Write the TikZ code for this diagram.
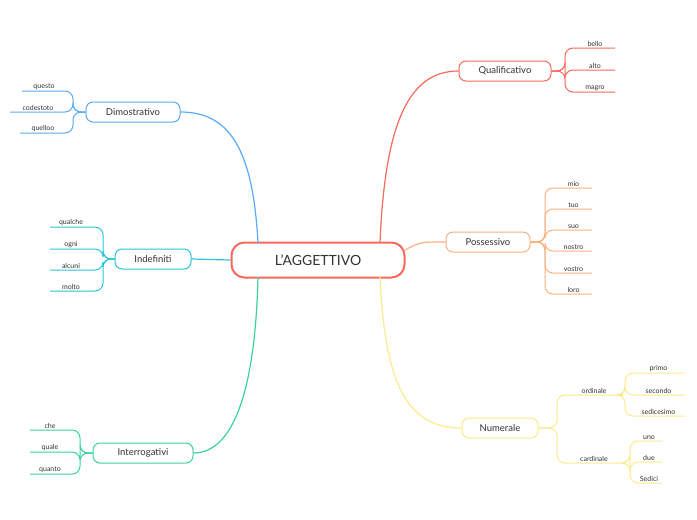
\documentclass[tikz,border=0pt]{standalone}
\usepackage{fontspec}
\setmainfont{Lato}
\definecolor{cRed}{HTML}{F8695D}
\definecolor{cOra}{HTML}{FDB27E}
\definecolor{cYel}{HTML}{FCEB8C}
\definecolor{cBlu}{HTML}{5AABF5}
\definecolor{cTea}{HTML}{2AC5D8}
\definecolor{cGre}{HTML}{3AD39E}
\definecolor{cTxt}{HTML}{333333}
\tikzset{
  topic/.style={draw=#1,line width=1pt,rounded corners=7pt,minimum height=20pt,fill=white,text=cTxt,font=\fontsize{9.5}{11}\selectfont},
  root/.style={draw=cRed,line width=2pt,rounded corners=13pt,minimum width=173pt,minimum height=35pt,fill=white,text=cTxt,font=\fontsize{14}{16}\selectfont},
  leaftxt/.style={text=cTxt,font=\fontsize{7}{8}\selectfont,inner sep=1pt},
  branch/.style={draw=#1,line width=1pt,rounded corners=8pt},
}
% \leaf{start}{bracket x}{line y}{start x}{end x}{text}{colour}
\newcommand\leaf[7]{%
  \draw[branch=#7] (#1) -| (#2,#3) -- (#5,#3);
  \node[leaftxt,above] at ({(#4+#5)/2},#3) {#6};}
\begin{document}
\begin{tikzpicture}[x=1pt,y=-1pt]
\useasboundingbox[fill=white] (0,0) rectangle (697,520);
\node[root] (R) at (318,260) {L’AGGETTIVO};
\node[topic=cRed,minimum width=92pt] (Q) at (505,71) {Qualificativo};
\node[topic=cOra,minimum width=84pt] (P) at (488,242) {Possessivo};
\node[topic=cYel,minimum width=76pt] (N) at (500,428) {Numerale};
\node[topic=cBlu,minimum width=94pt] (D) at (133,112) {Dimostrativo};
\node[topic=cTea,minimum width=76pt] (I) at (153,259) {Indefiniti};
\node[topic=cGre,minimum width=100pt] (G) at (143,453) {Interrogativi};
% main branches
\draw[cRed,line width=1.2pt] (380,243) .. controls (385,120) and (410,71) .. (Q.west);
\draw[cOra,line width=1.2pt] (405,250) .. controls (420,242) .. (P.west);
\draw[cYel,line width=1.2pt] (380,277) .. controls (385,390) and (410,428) .. (N.west);
\draw[cBlu,line width=1.2pt] (258,243) .. controls (253,150) and (230,112) .. (D.east);
\draw[cTea,line width=1.2pt] (R.west) -- (I.east);
\draw[cGre,line width=1.2pt] (258,277) .. controls (255,400) and (230,453) .. (G.east);
% leaves
\coordinate (q0) at (Q.east); \coordinate (p0) at (P.east);
\foreach \t/\y in {bello/48,alto/70,magro/92} {\leaf{q0}{565}{\y}{575}{615}{\t}{cRed}}
\foreach \t/\y in {mio/188,tuo/209,suo/230,nostro/251,vostro/273,loro/294} {\leaf{p0}{545}{\y}{555}{592}{\t}{cOra}}
\coordinate (n0) at (N.east);
\foreach \t/\y in {ordinale/395,cardinale/463} {\leaf{n0}{557}{\y}{565}{623}{\t}{cYel}}
\coordinate (o0) at (623,395); \coordinate (c0) at (623,463);
\foreach \t/\y in {primo/373,secondo/395,sedicesimo/416} {\leaf{o0}{625}{\y}{632}{685}{\t}{cYel}}
\foreach \t/\y in {uno/441,due/462,Sedici/483} {\leaf{c0}{630}{\y}{636}{662}{\t}{cYel}}
\coordinate (d0) at (D.west); \coordinate (i0) at (I.west); \coordinate (g0) at (G.west);
\foreach \t/\y/\s in {questo/91/22,codestoto/112/10,quelloo/133/20} {\leaf{d0}{73}{\y}{66}{\s}{\t}{cBlu}}
\foreach \t/\y in {qualche/227,ogni/249,alcuni/270,molto/291} {\leaf{i0}{103}{\y}{92}{50}{\t}{cTea}}
\foreach \t/\y in {che/430,quale/452,quanto/474} {\leaf{g0}{80}{\y}{70}{30}{\t}{cGre}}
\end{tikzpicture}
\end{document}
